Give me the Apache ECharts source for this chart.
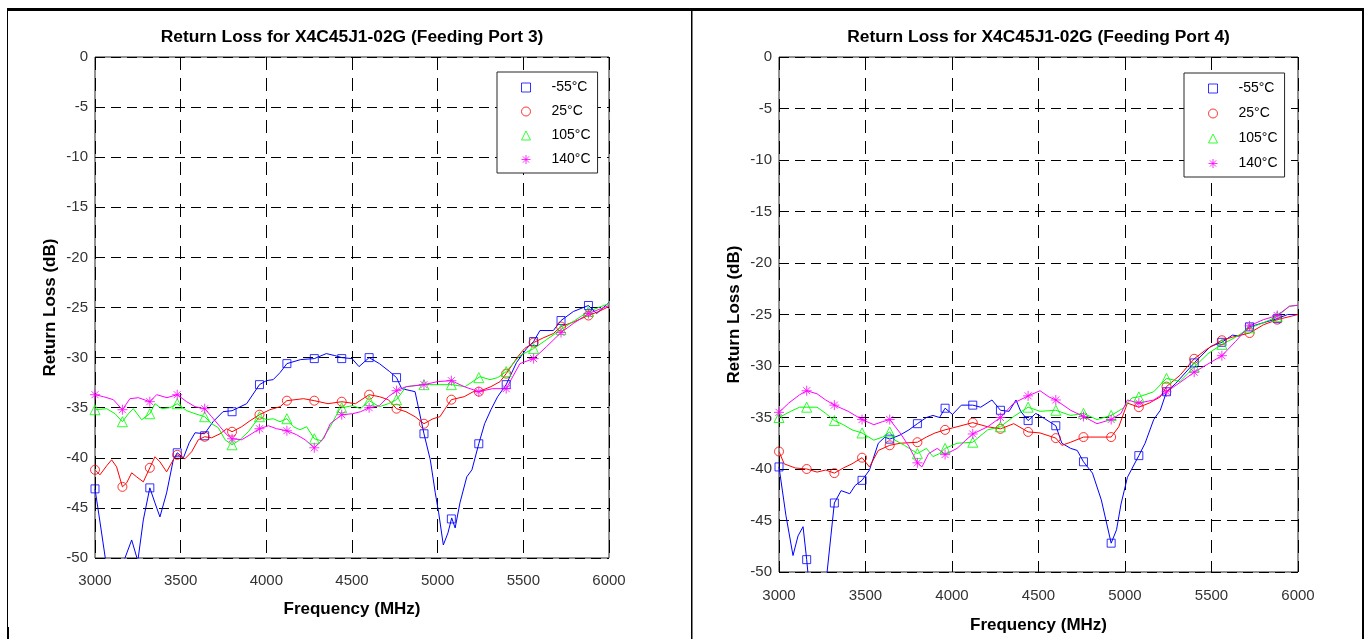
<!DOCTYPE html>
<html>
<head>
<meta charset="utf-8">
<script src="https://cdn.jsdelivr.net/npm/echarts@6/dist/echarts.min.js"></script>
<style>
html,body{margin:0;padding:0;background:#fff;}
#chart{width:1370px;height:639px;}
</style>
</head>
<body>
<div id="chart"></div>
<script>
// ---------- DATA ----------
const TITLES = ['Return Loss for X4C45J1-02G (Feeding Port 3)', 'Return Loss for X4C45J1-02G (Feeding Port 4)'];
const X_NAME = 'Frequency (MHz)';
const Y_NAME = 'Return Loss (dB)';
const LEGEND_LABELS = ['-55°C', '25°C', '105°C', '140°C'];
const MARKER_FREQS = [3000,3160,3320,3480,3640,3800,3960,4120,4280,4440,4600,4760,4920,5080,5240,5400,5560,5720,5880];

// Port 3 curves [MHz, dB]
const P3_LINE_M55 = [[3000,-43.1],[3030,-46.5],[3060,-50],[3110,-52.5],[3175,-50],[3214,-48.2],[3250,-50.3],[3282,-46.2],[3320,-43.0],[3350,-44.5],[3379,-45.9],[3418,-43.5],[3457,-40.2],[3480,-39.5],[3516,-40.0],[3550,-38.5],[3584,-37.5],[3640,-37.6],[3689,-36.4],[3747,-35.4],[3800,-35.3],[3885,-34.6],[3960,-32.7],[4000,-32.3],[4040,-32.2],[4080,-31.5],[4120,-30.6],[4200,-30.2],[4280,-30.1],[4350,-29.6],[4400,-29.8],[4440,-30.0],[4500,-30.1],[4541,-30.9],[4600,-30.0],[4660,-30.6],[4720,-31.4],[4760,-32.0],[4790,-33.1],[4868,-33.4],[4920,-37.6],[4957,-40.2],[4986,-43.5],[5006,-45.5],[5033,-48.7],[5060,-47.5],[5082,-46.0],[5102,-47.0],[5130,-44.5],[5170,-41.9],[5200,-41.2],[5240,-38.6],[5274,-36.6],[5311,-35.2],[5350,-33.9],[5400,-32.7],[5460,-30.5],[5519,-29.1],[5560,-28.4],[5597,-27.3],[5675,-27.3],[5720,-26.3],[5792,-25.4],[5880,-24.8],[5928,-25.6],[6000,-24.5]];
const P3_LINE_25 = [[3000,-41.2],[3029,-41.7],[3068,-40.8],[3097,-40.2],[3126,-40.9],[3160,-42.9],[3185,-42.5],[3214,-41.5],[3243,-41.9],[3282,-42.4],[3320,-41.0],[3350,-39.9],[3379,-40.4],[3418,-41.4],[3457,-40.2],[3480,-39.7],[3525,-40.1],[3564,-39.4],[3603,-38.2],[3640,-37.9],[3681,-38.0],[3730,-37.6],[3769,-37.1],[3800,-37.4],[3856,-36.9],[3905,-36.3],[3960,-35.7],[4021,-35.2],[4080,-34.9],[4120,-34.3],[4217,-34.1],[4280,-34.3],[4360,-34.6],[4440,-34.4],[4520,-34.6],[4600,-33.7],[4660,-33.9],[4712,-34.2],[4760,-35.1],[4815,-35.4],[4868,-35.9],[4920,-36.6],[4973,-36.1],[5013,-35.9],[5040,-35.2],[5080,-34.2],[5155,-33.9],[5208,-33.4],[5240,-33.4],[5311,-32.9],[5364,-32.4],[5400,-31.6],[5468,-29.9],[5507,-29.1],[5560,-28.5],[5620,-28.0],[5675,-27.6],[5720,-26.9],[5800,-26.4],[5880,-25.8],[5940,-25.4],[6000,-24.9]];
const P3_LINE_105 = [[3000,-35.2],[3068,-35.1],[3117,-35.6],[3160,-36.4],[3195,-35.6],[3224,-35.1],[3272,-36.2],[3320,-35.6],[3350,-34.6],[3389,-35.1],[3438,-35.0],[3480,-34.6],[3535,-35.3],[3584,-35.6],[3640,-35.9],[3681,-36.6],[3720,-37.0],[3759,-38.2],[3800,-38.7],[3846,-38.2],[3895,-37.4],[3960,-35.9],[4002,-36.2],[4040,-36.1],[4080,-36.4],[4120,-36.1],[4158,-36.9],[4196,-37.2],[4235,-36.9],[4280,-38.1],[4321,-38.3],[4373,-36.9],[4426,-35.2],[4440,-35.0],[4504,-34.8],[4550,-35.1],[4600,-34.3],[4660,-34.9],[4712,-34.6],[4760,-34.2],[4816,-32.9],[4868,-32.8],[4920,-32.7],[5000,-32.7],[5080,-32.7],[5160,-32.9],[5247,-31.9],[5305,-32.2],[5350,-32.0],[5400,-31.4],[5480,-29.8],[5560,-29.1],[5636,-28.2],[5720,-27.2],[5800,-26.3],[5880,-25.4],[6000,-24.6]];
const P3_LINE_140 = [[3000,-33.7],[3049,-33.9],[3107,-34.2],[3160,-35.2],[3204,-34.1],[3253,-34.0],[3320,-34.4],[3360,-33.7],[3420,-34.0],[3480,-33.7],[3535,-34.4],[3584,-34.9],[3640,-35.1],[3681,-35.9],[3730,-36.9],[3769,-37.7],[3800,-38.1],[3856,-38.2],[3905,-37.7],[3960,-37.1],[4012,-36.8],[4060,-37.1],[4120,-37.3],[4177,-37.7],[4226,-38.2],[4280,-39.0],[4334,-38.1],[4373,-36.6],[4440,-35.7],[4504,-35.6],[4550,-35.4],[4600,-35.0],[4660,-34.8],[4712,-33.9],[4760,-33.3],[4816,-32.9],[4920,-32.7],[4999,-32.4],[5080,-32.3],[5155,-32.9],[5240,-33.4],[5320,-33.1],[5400,-33.1],[5480,-30.6],[5560,-30.1],[5636,-28.9],[5720,-27.5],[5791,-26.6],[5880,-25.6],[6000,-24.8]];
// Port 3 marker values at MARKER_FREQS (null = below the axis)
const P3_MARK_M55 = [-43.1,null,-43.0,-39.5,-37.8,-35.4,-32.7,-30.6,-30.1,-30.1,-30.0,-32.0,-37.6,-46.1,-38.6,-32.7,-28.4,-26.3,-24.8];
const P3_MARK_25  = [-41.2,-42.9,-41.0,-39.7,-37.9,-37.4,-35.7,-34.3,-34.3,-34.4,-33.7,-35.1,-36.6,-34.2,-33.4,-31.6,-28.5,-26.9,-25.8];
const P3_MARK_105 = [-35.2,-36.4,-35.6,-34.6,-35.9,-38.7,-35.9,-36.1,-38.1,-35.0,-34.3,-34.2,-32.7,-32.7,-32.0,-31.4,-29.1,-27.2,-25.4];
const P3_MARK_140 = [-33.7,-35.2,-34.4,-33.7,-35.1,-38.1,-37.1,-37.3,-39.0,-35.7,-35.0,-33.3,-32.7,-32.3,-33.4,-33.1,-30.1,-27.5,-25.6];

// Port 4 curves [MHz, dB]
const P4_LINE_M55 = [[3000,-39.8],[3040,-44.5],[3081,-48.4],[3110,-46.5],[3139,-45.6],[3160,-48.8],[3175,-51.5],[3220,-54],[3260,-53],[3278,-50],[3300,-46.5],[3320,-43.3],[3359,-42.1],[3409,-42.4],[3440,-41.6],[3480,-41.1],[3523,-40.1],[3574,-37.5],[3612,-36.9],[3640,-37.1],[3700,-36.7],[3751,-36.2],[3800,-35.6],[3852,-35.0],[3890,-34.8],[3928,-35.0],[3960,-34.1],[4003,-34.7],[4054,-33.8],[4120,-33.8],[4166,-34.0],[4231,-33.3],[4280,-34.3],[4330,-34.4],[4370,-33.3],[4397,-34.4],[4440,-35.3],[4484,-34.6],[4534,-35.1],[4600,-35.8],[4635,-37.5],[4686,-38.0],[4724,-38.2],[4760,-39.3],[4812,-40.4],[4863,-43.0],[4920,-47.2],[4951,-45.9],[4977,-43.4],[5014,-40.8],[5080,-38.7],[5116,-37.5],[5166,-35.2],[5204,-34.3],[5240,-32.5],[5293,-31.7],[5400,-29.7],[5495,-28.1],[5560,-27.7],[5621,-27.0],[5660,-27.1],[5720,-26.2],[5800,-25.8],[5880,-25.4],[5940,-25.0],[6000,-25.0]];
const P4_LINE_25 = [[3000,-38.3],[3030,-39.5],[3094,-39.9],[3160,-40.0],[3220,-40.3],[3270,-40.1],[3320,-40.4],[3372,-39.9],[3422,-39.5],[3480,-38.9],[3523,-39.8],[3574,-38.2],[3640,-37.7],[3700,-37.5],[3800,-37.4],[3852,-36.9],[3902,-36.5],[3960,-36.2],[4029,-35.9],[4120,-35.5],[4206,-35.9],[4280,-36.1],[4357,-35.6],[4440,-36.4],[4509,-36.5],[4600,-37.0],[4635,-37.7],[4686,-37.4],[4760,-36.9],[4838,-36.9],[4920,-36.9],[4964,-35.9],[5014,-33.6],[5080,-34.0],[5140,-33.6],[5204,-33.0],[5240,-32.0],[5318,-30.9],[5400,-29.3],[5470,-28.4],[5560,-27.5],[5621,-27.2],[5720,-26.8],[5800,-26.0],[5880,-25.5],[6000,-25.0]];
const P4_LINE_105 = [[3000,-35.0],[3068,-34.4],[3119,-34.0],[3160,-34.0],[3220,-34.0],[3270,-34.6],[3320,-35.3],[3372,-35.7],[3422,-36.2],[3480,-36.5],[3548,-37.2],[3599,-36.9],[3640,-36.4],[3670,-37.2],[3725,-37.7],[3800,-38.5],[3852,-38.0],[3890,-38.8],[3928,-38.5],[3960,-38.0],[4029,-37.5],[4120,-37.4],[4206,-36.2],[4280,-35.9],[4357,-34.9],[4440,-34.0],[4509,-34.4],[4600,-34.3],[4686,-34.8],[4760,-34.6],[4838,-35.2],[4920,-34.8],[4989,-34.1],[5040,-33.1],[5080,-33.0],[5166,-32.5],[5240,-31.2],[5318,-31.5],[5400,-30.1],[5480,-28.8],[5560,-27.9],[5640,-27.2],[5720,-26.3],[5800,-25.8],[5880,-25.2],[5950,-24.2],[6000,-24.1]];
const P4_LINE_140 = [[3000,-34.5],[3056,-33.6],[3119,-32.8],[3160,-32.4],[3220,-32.7],[3270,-33.3],[3320,-33.8],[3400,-34.4],[3480,-35.2],[3548,-35.7],[3599,-35.4],[3640,-35.2],[3700,-36.5],[3751,-37.8],[3800,-39.4],[3826,-39.8],[3865,-38.5],[3915,-38.0],[3960,-38.6],[4029,-38.0],[4080,-37.2],[4120,-36.6],[4206,-35.9],[4280,-35.0],[4357,-33.6],[4440,-32.9],[4509,-32.4],[4560,-33.0],[4600,-33.3],[4686,-34.3],[4760,-34.9],[4838,-35.6],[4920,-35.2],[4977,-34.6],[5014,-33.3],[5080,-33.6],[5166,-33.3],[5240,-32.5],[5318,-31.6],[5400,-30.6],[5480,-29.8],[5560,-29.0],[5640,-27.6],[5720,-26.1],[5800,-25.5],[5880,-25.1],[5950,-24.2],[6000,-24.1]];
const P4_MARK_M55 = [-39.8,-48.8,-43.3,-41.1,-37.1,-35.6,-34.1,-33.8,-34.3,-35.3,-35.8,-39.3,-47.2,-38.7,-32.5,-29.7,-27.7,-26.2,-25.4];
const P4_MARK_25  = [-38.3,-40.0,-40.4,-38.9,-37.7,-37.4,-36.2,-35.5,-36.1,-36.4,-37.0,-36.9,-36.9,-34.0,-32.0,-29.3,-27.5,-26.8,-25.5];
const P4_MARK_105 = [-35.0,-34.0,-35.3,-36.5,-36.4,-38.5,-38.0,-37.4,-35.9,-34.0,-34.3,-34.6,-34.8,-33.0,-31.2,-30.1,-27.9,-26.3,-25.2];
const P4_MARK_140 = [-34.5,-32.4,-33.8,-35.2,-35.2,-39.4,-38.6,-36.6,-35.0,-32.9,-33.3,-34.9,-35.2,-33.6,-32.5,-30.6,-29.0,-26.1,-25.1];

// ---------- STYLE / LAYOUT ----------
const FONT = '"Liberation Sans", Arial, Helvetica, sans-serif';
const COLORS = ['#0000ff', '#ff0000', '#00ff00', '#ff00ff'];
const ASTERISK = 'path://M5,0L5,10M0,5L10,5M1.5,1.5L8.5,8.5M1.5,8.5L8.5,1.5';
const SYMBOLS = ['rect', 'circle', 'triangle', ASTERISK];
const SYMBOL_SIZES = [8, 9, 10, 10];

const PANELS = [
  {grid: {left: 95, top: 57, width: 514, height: 501}, title: TITLES[0],
   lines: [P3_LINE_M55, P3_LINE_25, P3_LINE_105, P3_LINE_140],
   marks: [P3_MARK_M55, P3_MARK_25, P3_MARK_105, P3_MARK_140],
   legend: {left: 497, top: 72, gap: 9}, xNameGap: 43, xLabelMargin: 15},
  {grid: {left: 779, top: 57, width: 519, height: 515}, title: TITLES[1],
   lines: [P4_LINE_M55, P4_LINE_25, P4_LINE_105, P4_LINE_140],
   marks: [P4_MARK_M55, P4_MARK_25, P4_MARK_105, P4_MARK_140],
   legend: {left: 1184, top: 73, gap: 10}, xNameGap: 45, xLabelMargin: 16}
];

const grids = [], xAxes = [], yAxes = [], series = [], legends = [], graphics = [];

PANELS.forEach((p, pi) => {
  grids.push(Object.assign({show: true, borderColor: '#262626', borderWidth: 1, backgroundColor: '#fff'}, p.grid));
  xAxes.push({
    type: 'value', gridIndex: pi, min: 3000, max: 6000, interval: 500,
    name: X_NAME, nameLocation: 'middle', nameGap: p.xNameGap,
    nameTextStyle: {fontFamily: FONT, fontSize: 17, fontWeight: 'bold', color: '#000'},
    axisLine: {show: false}, axisTick: {show: false},
    axisLabel: {fontFamily: FONT, fontSize: 15, color: '#333', margin: p.xLabelMargin,
                formatter: v => String(v)},
    splitLine: {show: true, lineStyle: {color: '#000', width: 1, type: [13, 8]}}
  });
  yAxes.push({
    type: 'value', gridIndex: pi, min: -50, max: 0, interval: 5,
    name: Y_NAME, nameLocation: 'middle', nameGap: 36,
    nameTextStyle: {fontFamily: FONT, fontSize: 17, fontWeight: 'bold', color: '#000'},
    axisLine: {show: false}, axisTick: {show: false},
    axisLabel: {fontFamily: FONT, fontSize: 15, color: '#333', margin: 7,
                formatter: v => String(v)},
    splitLine: {show: true, lineStyle: {color: '#000', width: 1, type: [10, 6]}}
  });
  p.lines.forEach((ln, si) => {
    series.push({
      type: 'line', name: 'P' + (pi + 3) + ' line ' + LEGEND_LABELS[si],
      xAxisIndex: pi, yAxisIndex: pi, data: ln,
      showSymbol: false, symbol: 'none', clip: true,
      lineStyle: {color: COLORS[si], width: 1}, itemStyle: {color: COLORS[si]},
      z: 2, silent: true
    });
  });
  p.marks.forEach((mk, si) => {
    series.push({
      type: 'scatter', name: LEGEND_LABELS[si],
      xAxisIndex: pi, yAxisIndex: pi,
      data: MARKER_FREQS.map((f, i) => [f, mk[i]]).filter(d => d[1] !== null),
      symbol: SYMBOLS[si], symbolSize: SYMBOL_SIZES[si], clip: true,
      itemStyle: {color: 'rgba(0,0,0,0)', borderColor: COLORS[si], borderWidth: 1},
      z: 3, silent: true
    });
  });
  legends.push({
    data: LEGEND_LABELS, orient: 'vertical', left: p.legend.left, top: p.legend.top,
    backgroundColor: '#fff', borderColor: '#262626', borderWidth: 1,
    padding: [8, 7, 6, 24], itemGap: p.legend.gap, itemWidth: 9, itemHeight: 9,
    itemStyle: {color: 'inherit', borderColor: 'inherit', borderWidth: 1},
    textStyle: {fontFamily: FONT, fontSize: 14, color: '#000', lineHeight: 15, padding: [0, 0, 0, 16]},
    selectedMode: false, z: 10
  });
  graphics.push({
    type: 'text',
    x: p.grid.left + p.grid.width / 2, y: 29,
    style: {text: p.title, textAlign: 'center', textVerticalAlign: 'top',
            font: 'bold 17.4px ' + FONT, fill: '#000'}
  });
});

// table borders
graphics.push(
  {type: 'rect', shape: {x: 7, y: 8, width: 1357, height: 3}, style: {fill: '#000'}, silent: true},
  {type: 'rect', shape: {x: 7, y: 8, width: 1, height: 631}, style: {fill: '#000'}, silent: true},
  {type: 'rect', shape: {x: 7, y: 627, width: 2, height: 12}, style: {fill: '#000'}, silent: true},
  {type: 'rect', shape: {x: 691, y: 8, width: 1.5, height: 631}, style: {fill: '#000'}, silent: true},
  {type: 'rect', shape: {x: 1362, y: 8, width: 2, height: 631}, style: {fill: '#000'}, silent: true}
);

const chart = echarts.init(document.getElementById('chart'), null, {renderer: 'canvas'});
chart.setOption({
  animation: false,
  backgroundColor: '#fff',
  grid: grids, xAxis: xAxes, yAxis: yAxes,
  legend: legends, series: series, graphic: graphics
});
</script>
</body>
</html>
